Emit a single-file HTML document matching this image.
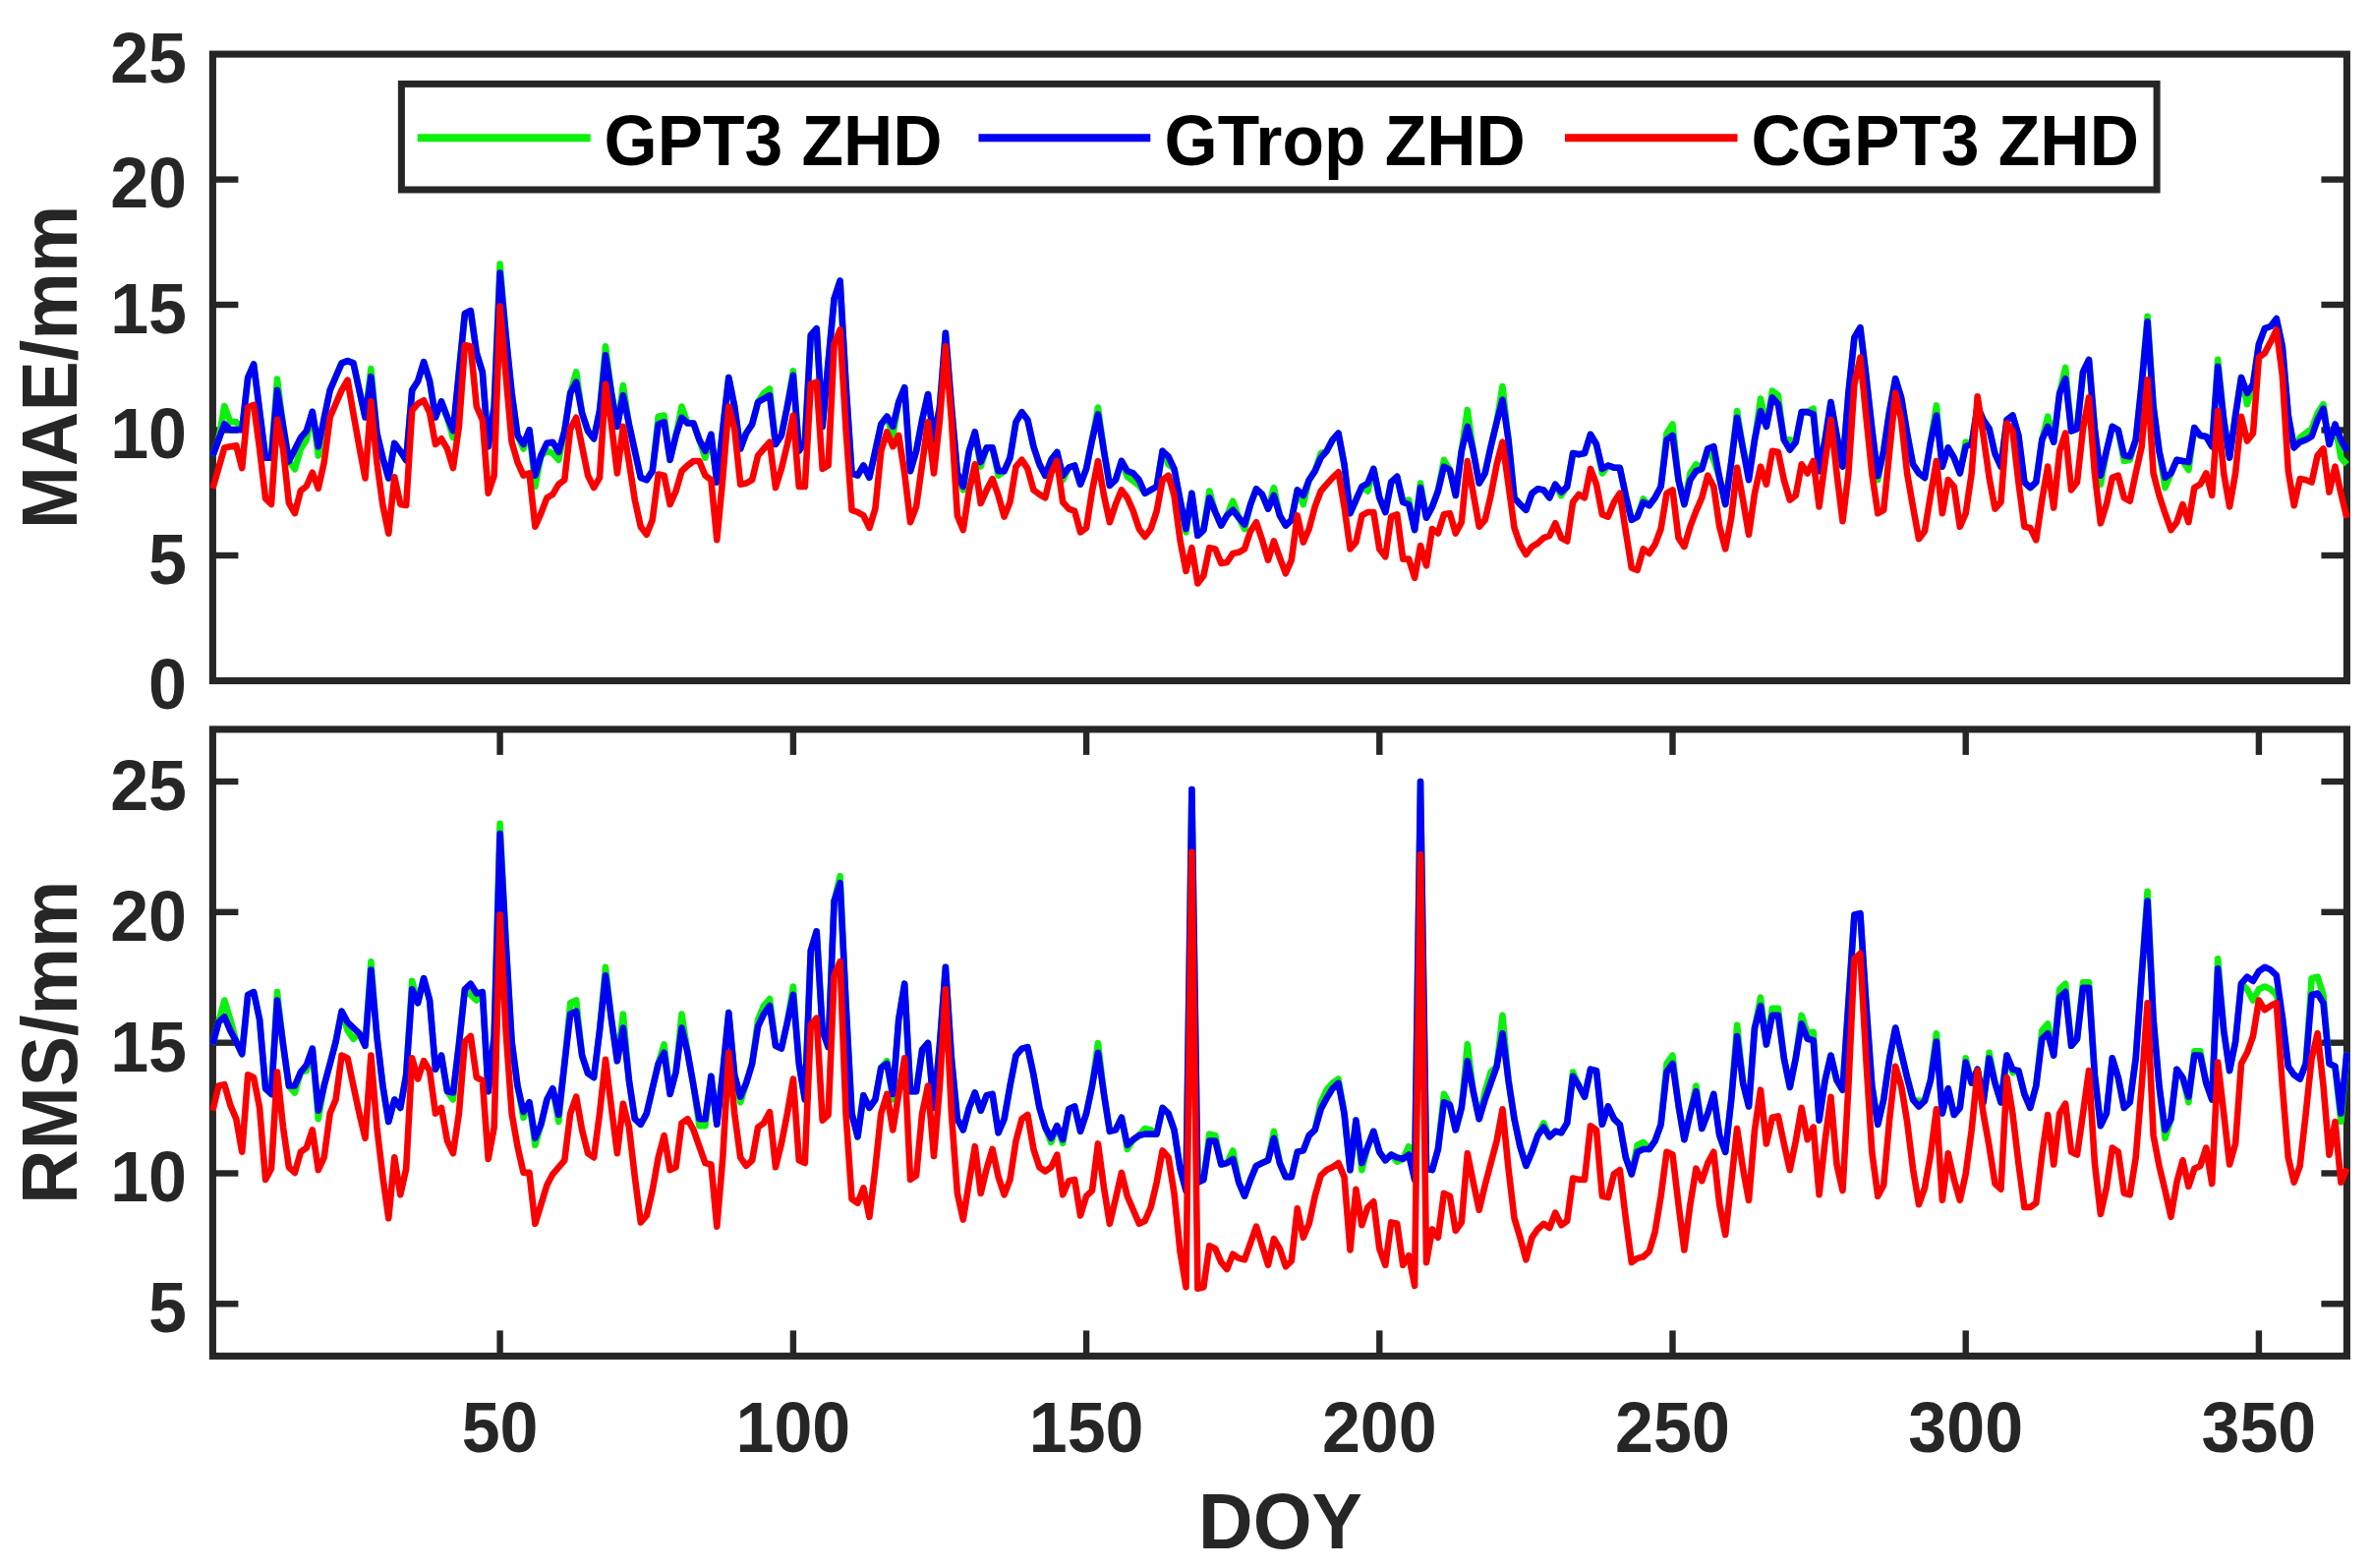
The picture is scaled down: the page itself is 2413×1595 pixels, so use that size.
<!DOCTYPE html>
<html><head><meta charset="utf-8"><title>MAE and RMS of ZHD models by DOY</title>
<style>
html,body{margin:0;padding:0;background:#fff;}
body{width:2413px;height:1595px;overflow:hidden;}
svg{display:block;}
svg text{font-family:"Liberation Sans",Arial,Helvetica,sans-serif;font-weight:bold;}
</style></head><body>
<svg width="2413" height="1595" viewBox="0 0 2413 1595">
<defs>
<clipPath id="ct"><rect x="213.4" y="55.1" width="2177.0" height="637.4"/></clipPath>
<clipPath id="cb"><rect x="213.4" y="741.9" width="2177.0" height="637.5"/></clipPath>
</defs>
<rect x="0" y="0" width="2413" height="1595" fill="#ffffff"/>
<g stroke="#262626" stroke-width="6.4" fill="none">
<line x1="216.4" y1="565.0" x2="242.4" y2="565.0"/>
<line x1="2387.4" y1="565.0" x2="2361.4" y2="565.0"/>
<line x1="216.4" y1="437.5" x2="242.4" y2="437.5"/>
<line x1="2387.4" y1="437.5" x2="2361.4" y2="437.5"/>
<line x1="216.4" y1="310.0" x2="242.4" y2="310.0"/>
<line x1="2387.4" y1="310.0" x2="2361.4" y2="310.0"/>
<line x1="216.4" y1="182.6" x2="242.4" y2="182.6"/>
<line x1="2387.4" y1="182.6" x2="2361.4" y2="182.6"/>
<line x1="216.4" y1="1326.3" x2="242.4" y2="1326.3"/>
<line x1="2387.4" y1="1326.3" x2="2361.4" y2="1326.3"/>
<line x1="216.4" y1="1193.5" x2="242.4" y2="1193.5"/>
<line x1="2387.4" y1="1193.5" x2="2361.4" y2="1193.5"/>
<line x1="216.4" y1="1060.7" x2="242.4" y2="1060.7"/>
<line x1="2387.4" y1="1060.7" x2="2361.4" y2="1060.7"/>
<line x1="216.4" y1="927.8" x2="242.4" y2="927.8"/>
<line x1="2387.4" y1="927.8" x2="2361.4" y2="927.8"/>
<line x1="216.4" y1="795.0" x2="242.4" y2="795.0"/>
<line x1="2387.4" y1="795.0" x2="2361.4" y2="795.0"/>
<line x1="508.6" y1="1379.4" x2="508.6" y2="1353.4"/>
<line x1="508.6" y1="741.9" x2="508.6" y2="767.9"/>
<line x1="806.9" y1="1379.4" x2="806.9" y2="1353.4"/>
<line x1="806.9" y1="741.9" x2="806.9" y2="767.9"/>
<line x1="1105.1" y1="1379.4" x2="1105.1" y2="1353.4"/>
<line x1="1105.1" y1="741.9" x2="1105.1" y2="767.9"/>
<line x1="1403.3" y1="1379.4" x2="1403.3" y2="1353.4"/>
<line x1="1403.3" y1="741.9" x2="1403.3" y2="767.9"/>
<line x1="1701.5" y1="1379.4" x2="1701.5" y2="1353.4"/>
<line x1="1701.5" y1="741.9" x2="1701.5" y2="767.9"/>
<line x1="1999.7" y1="1379.4" x2="1999.7" y2="1353.4"/>
<line x1="1999.7" y1="741.9" x2="1999.7" y2="767.9"/>
<line x1="2297.9" y1="1379.4" x2="2297.9" y2="1353.4"/>
<line x1="2297.9" y1="741.9" x2="2297.9" y2="767.9"/>
</g>
<g stroke="#262626" stroke-width="7.1" fill="none" stroke-linejoin="miter">
<rect x="216.4" y="55.1" width="2171.0" height="637.4"/>
<rect x="216.4" y="741.9" width="2171.0" height="637.5"/>
</g>
<g clip-path="url(#ct)">
<polyline points="216.4,463.5 222.4,447.4 228.3,413.0 234.3,429.1 240.3,429.1 246.2,437.1 252.2,384.1 258.1,370.5 264.1,418.2 270.1,465.8 276.0,465.8 282.0,385.5 288.0,433.1 293.9,469.3 299.9,477.3 305.9,456.6 311.8,447.4 317.8,418.8 323.8,463.5 329.7,425.6 335.7,396.9 341.6,383.2 347.6,369.4 353.6,367.1 359.5,369.4 365.5,396.9 371.5,424.5 377.4,375.1 383.4,440.6 389.4,465.8 395.3,486.5 401.3,450.9 407.3,458.9 413.2,468.1 419.2,396.9 425.1,387.8 431.1,368.2 437.1,387.8 443.0,424.5 449.0,408.4 455.0,424.5 460.9,445.2 466.9,378.6 472.9,318.9 478.8,316.1 484.8,359.1 490.8,378.4 496.7,454.2 502.7,413.5 508.6,268.6 514.6,341.0 520.6,399.9 526.5,442.9 532.5,456.5 538.5,437.3 544.4,495.0 550.4,463.3 556.4,458.8 562.3,461.0 568.3,467.8 574.3,438.4 580.2,399.9 586.2,378.4 592.1,420.3 598.1,438.4 604.1,446.3 610.0,418.0 616.0,352.4 622.0,399.9 627.9,433.9 633.9,392.0 639.9,431.6 645.8,458.8 651.8,485.9 657.8,488.2 663.7,479.1 669.7,423.7 675.6,422.5 681.6,467.8 687.6,442.9 693.5,413.5 699.5,430.5 705.5,430.5 711.4,447.4 717.4,465.6 723.4,441.8 729.3,490.5 735.3,436.1 741.3,384.0 747.2,413.5 753.2,456.5 759.1,440.7 765.1,431.6 771.1,409.0 777.0,399.9 783.0,395.4 789.0,452.0 794.9,442.9 800.9,413.5 806.9,377.3 812.8,458.8 818.8,449.7 824.8,341.0 830.7,334.2 836.7,433.9 842.6,368.2 848.6,303.7 854.6,285.6 860.5,390.8 866.5,481.4 872.5,483.7 878.4,473.5 884.4,485.9 890.4,458.8 896.3,431.6 902.3,423.7 908.3,442.9 914.2,409.0 920.2,394.2 926.1,479.1 932.1,458.8 938.1,427.1 944.0,401.0 950.0,447.4 956.0,413.5 961.9,338.8 967.9,413.5 973.9,481.4 979.8,498.4 985.8,458.8 991.8,439.5 997.7,474.6 1003.7,455.4 1009.6,455.4 1015.6,483.7 1021.6,479.1 1027.5,465.6 1033.5,429.3 1039.5,419.1 1045.4,427.1 1051.4,454.2 1057.4,472.3 1063.3,483.7 1069.3,467.8 1075.3,459.9 1081.2,488.2 1087.2,475.7 1093.2,473.5 1099.1,492.7 1105.1,476.9 1111.0,447.4 1117.0,414.6 1123.0,458.8 1128.9,493.9 1134.9,488.2 1140.9,469.0 1146.8,484.8 1152.8,489.3 1158.8,493.9 1164.7,501.8 1170.7,498.4 1176.7,495.0 1182.6,458.8 1188.6,472.3 1194.5,476.9 1200.5,508.6 1206.5,541.4 1212.4,501.8 1218.4,544.8 1224.4,539.1 1230.3,499.5 1236.3,521.0 1242.3,534.6 1248.2,524.4 1254.2,509.7 1260.2,526.7 1266.1,538.0 1272.1,513.1 1278.0,497.3 1284.0,502.9 1290.0,517.6 1295.9,496.1 1301.9,524.4 1307.9,534.6 1313.8,528.9 1319.8,498.4 1325.8,513.1 1331.7,488.2 1337.7,479.1 1343.7,461.0 1349.6,458.8 1355.6,447.4 1361.5,440.7 1367.5,472.3 1373.5,522.2 1379.4,508.6 1385.4,495.0 1391.4,499.5 1397.3,476.9 1403.3,506.3 1409.3,521.0 1415.2,490.5 1421.2,484.8 1427.2,510.8 1433.1,508.6 1439.1,539.1 1445.0,491.6 1451.0,526.7 1457.0,515.4 1462.9,499.5 1468.9,467.8 1474.9,478.0 1480.8,504.0 1486.8,458.8 1492.8,416.9 1498.7,458.8 1504.7,491.6 1510.7,481.4 1516.6,454.2 1522.6,429.3 1528.5,393.1 1534.5,447.4 1540.5,506.3 1546.4,513.1 1552.4,518.8 1558.4,501.8 1564.3,497.3 1570.3,498.4 1576.3,506.3 1582.2,492.7 1588.2,504.0 1594.2,495.0 1600.1,461.0 1606.1,462.2 1612.0,461.0 1618.0,441.8 1624.0,452.0 1629.9,481.4 1635.9,473.5 1641.9,475.7 1647.8,475.7 1653.8,504.0 1659.8,528.9 1665.7,525.6 1671.7,507.4 1677.7,514.2 1683.6,506.3 1689.6,495.0 1695.5,440.7 1701.5,431.6 1707.5,488.2 1713.4,513.1 1719.4,481.4 1725.4,472.3 1731.3,476.9 1737.3,456.5 1743.3,467.8 1749.2,485.9 1755.2,513.1 1761.2,470.1 1767.1,418.0 1773.1,456.5 1779.0,481.4 1785.0,447.4 1791.0,405.6 1796.9,433.9 1802.9,397.6 1808.9,402.2 1814.8,447.4 1820.8,447.4 1826.8,449.7 1832.7,419.1 1838.7,419.1 1844.7,415.7 1850.6,479.1 1856.6,447.4 1862.5,409.0 1868.5,442.9 1874.5,474.6 1880.4,399.9 1886.4,343.3 1892.4,333.1 1898.3,381.8 1904.3,436.1 1910.3,488.2 1916.2,458.8 1922.2,418.0 1928.2,385.2 1934.1,404.4 1940.1,440.7 1946.0,472.3 1952.0,481.4 1958.0,485.9 1963.9,449.7 1969.9,412.4 1975.9,474.6 1981.8,455.4 1987.8,465.6 1993.8,481.4 1999.7,449.7 2005.7,452.0 2011.7,413.5 2017.6,427.1 2023.6,436.1 2029.5,461.7 2035.5,474.6 2041.5,427.1 2047.4,422.5 2053.4,442.9 2059.4,490.5 2065.3,496.1 2071.3,490.5 2077.3,447.4 2083.2,423.7 2089.2,449.7 2095.2,399.9 2101.1,373.9 2107.1,438.4 2113.0,436.1 2119.0,378.4 2125.0,365.9 2130.9,436.1 2136.9,492.7 2142.9,458.8 2148.8,433.9 2154.8,437.3 2160.8,469.0 2166.7,467.8 2172.7,447.4 2178.7,390.8 2184.6,321.8 2190.6,413.5 2196.5,458.8 2202.5,496.1 2208.5,481.4 2214.4,467.8 2220.4,469.0 2226.4,478.0 2232.3,435.0 2238.3,442.9 2244.3,444.0 2250.2,454.2 2256.2,365.9 2262.2,427.1 2268.1,465.6 2274.1,422.5 2280.0,384.0 2286.0,411.2 2292.0,390.8 2297.9,350.1 2303.9,334.2 2309.9,332.0 2315.8,324.1 2321.8,352.4 2327.8,422.5 2333.7,455.4 2339.7,445.2 2345.7,440.7 2351.6,436.1 2357.6,420.3 2363.5,411.2 2369.5,452.0 2375.5,431.6 2381.4,465.6 2387.4,472.3" fill="none" stroke="#0df00d" stroke-width="6.6" stroke-linejoin="round" stroke-linecap="butt"/>
<polyline points="216.4,463.5 222.4,447.4 228.3,431.4 234.3,437.1 240.3,437.1 246.2,437.1 252.2,384.1 258.1,370.5 264.1,418.2 270.1,465.8 276.0,465.8 282.0,396.9 288.0,433.1 293.9,469.3 299.9,457.2 305.9,445.2 311.8,438.3 317.8,418.8 323.8,454.3 329.7,425.6 335.7,396.9 341.6,383.2 347.6,369.4 353.6,367.1 359.5,369.4 365.5,396.9 371.5,424.5 377.4,383.2 383.4,440.6 389.4,465.8 395.3,486.5 401.3,450.9 407.3,458.9 413.2,468.1 419.2,396.9 425.1,387.8 431.1,368.2 437.1,387.8 443.0,424.5 449.0,408.4 455.0,424.5 460.9,438.3 466.9,378.6 472.9,318.9 478.8,316.1 484.8,359.1 490.8,378.4 496.7,454.2 502.7,413.5 508.6,277.6 514.6,341.0 520.6,399.9 526.5,442.9 532.5,452.0 538.5,437.3 544.4,483.7 550.4,463.3 556.4,450.8 562.3,449.7 568.3,459.9 574.3,438.4 580.2,399.9 586.2,388.6 592.1,420.3 598.1,438.4 604.1,446.3 610.0,418.0 616.0,361.4 622.0,399.9 627.9,433.9 633.9,402.2 639.9,431.6 645.8,458.8 651.8,485.9 657.8,488.2 663.7,479.1 669.7,431.6 675.6,429.3 681.6,467.8 687.6,442.9 693.5,424.8 699.5,430.5 705.5,430.5 711.4,447.4 717.4,458.8 723.4,441.8 729.3,490.5 735.3,436.1 741.3,384.0 747.2,413.5 753.2,456.5 759.1,440.7 765.1,431.6 771.1,409.0 777.0,405.6 783.0,402.2 789.0,452.0 794.9,442.9 800.9,413.5 806.9,381.8 812.8,458.8 818.8,449.7 824.8,341.0 830.7,334.2 836.7,433.9 842.6,368.2 848.6,303.7 854.6,285.6 860.5,390.8 866.5,481.4 872.5,483.7 878.4,473.5 884.4,485.9 890.4,458.8 896.3,431.6 902.3,423.7 908.3,433.9 914.2,409.0 920.2,394.2 926.1,479.1 932.1,458.8 938.1,427.1 944.0,401.0 950.0,447.4 956.0,413.5 961.9,338.8 967.9,413.5 973.9,481.4 979.8,495.0 985.8,458.8 991.8,439.5 997.7,470.1 1003.7,455.4 1009.6,455.4 1015.6,479.1 1021.6,479.1 1027.5,465.6 1033.5,429.3 1039.5,419.1 1045.4,427.1 1051.4,454.2 1057.4,472.3 1063.3,483.7 1069.3,467.8 1075.3,459.9 1081.2,483.7 1087.2,475.7 1093.2,473.5 1099.1,492.7 1105.1,476.9 1111.0,447.4 1117.0,421.4 1123.0,458.8 1128.9,493.9 1134.9,488.2 1140.9,469.0 1146.8,479.1 1152.8,481.4 1158.8,488.2 1164.7,501.8 1170.7,498.4 1176.7,495.0 1182.6,458.8 1188.6,464.4 1194.5,476.9 1200.5,508.6 1206.5,538.0 1212.4,501.8 1218.4,544.8 1224.4,539.1 1230.3,506.3 1236.3,521.0 1242.3,534.6 1248.2,524.4 1254.2,518.8 1260.2,526.7 1266.1,533.5 1272.1,513.1 1278.0,497.3 1284.0,502.9 1290.0,517.6 1295.9,504.0 1301.9,524.4 1307.9,534.6 1313.8,528.9 1319.8,498.4 1325.8,504.0 1331.7,488.2 1337.7,479.1 1343.7,465.6 1349.6,458.8 1355.6,447.4 1361.5,440.7 1367.5,472.3 1373.5,522.2 1379.4,508.6 1385.4,495.0 1391.4,491.6 1397.3,476.9 1403.3,506.3 1409.3,521.0 1415.2,490.5 1421.2,484.8 1427.2,510.8 1433.1,513.1 1439.1,539.1 1445.0,496.1 1451.0,526.7 1457.0,515.4 1462.9,499.5 1468.9,474.6 1474.9,478.0 1480.8,504.0 1486.8,458.8 1492.8,433.9 1498.7,458.8 1504.7,491.6 1510.7,481.4 1516.6,454.2 1522.6,429.3 1528.5,406.7 1534.5,447.4 1540.5,506.3 1546.4,513.1 1552.4,518.8 1558.4,501.8 1564.3,497.3 1570.3,498.4 1576.3,506.3 1582.2,492.7 1588.2,500.6 1594.2,495.0 1600.1,461.0 1606.1,462.2 1612.0,461.0 1618.0,441.8 1624.0,452.0 1629.9,476.9 1635.9,473.5 1641.9,475.7 1647.8,475.7 1653.8,504.0 1659.8,528.9 1665.7,525.6 1671.7,510.8 1677.7,514.2 1683.6,506.3 1689.6,495.0 1695.5,447.4 1701.5,442.9 1707.5,488.2 1713.4,513.1 1719.4,488.2 1725.4,479.1 1731.3,476.9 1737.3,456.5 1743.3,454.2 1749.2,485.9 1755.2,513.1 1761.2,470.1 1767.1,424.8 1773.1,456.5 1779.0,488.2 1785.0,447.4 1791.0,418.0 1796.9,433.9 1802.9,404.4 1808.9,411.2 1814.8,447.4 1820.8,457.6 1826.8,449.7 1832.7,419.1 1838.7,419.1 1844.7,421.4 1850.6,479.1 1856.6,447.4 1862.5,409.0 1868.5,442.9 1874.5,474.6 1880.4,399.9 1886.4,343.3 1892.4,333.1 1898.3,381.8 1904.3,436.1 1910.3,484.1 1916.2,458.8 1922.2,418.0 1928.2,385.2 1934.1,404.4 1940.1,440.7 1946.0,472.3 1952.0,481.4 1958.0,485.9 1963.9,449.7 1969.9,422.5 1975.9,474.6 1981.8,455.4 1987.8,465.6 1993.8,481.4 1999.7,454.2 2005.7,452.0 2011.7,413.5 2017.6,427.1 2023.6,436.1 2029.5,461.7 2035.5,474.6 2041.5,427.1 2047.4,422.5 2053.4,442.9 2059.4,490.5 2065.3,496.1 2071.3,490.5 2077.3,447.4 2083.2,433.9 2089.2,449.7 2095.2,399.9 2101.1,385.2 2107.1,438.4 2113.0,436.1 2119.0,378.4 2125.0,365.9 2130.9,436.1 2136.9,483.7 2142.9,458.8 2148.8,433.9 2154.8,437.3 2160.8,463.3 2166.7,464.4 2172.7,447.4 2178.7,390.8 2184.6,327.4 2190.6,413.5 2196.5,458.8 2202.5,485.9 2208.5,481.4 2214.4,467.8 2220.4,469.0 2226.4,470.1 2232.3,435.0 2238.3,442.9 2244.3,444.0 2250.2,454.2 2256.2,372.7 2262.2,427.1 2268.1,465.6 2274.1,422.5 2280.0,384.0 2286.0,399.9 2292.0,390.8 2297.9,350.1 2303.9,334.2 2309.9,332.0 2315.8,324.1 2321.8,352.4 2327.8,422.5 2333.7,455.4 2339.7,449.7 2345.7,447.4 2351.6,444.0 2357.6,427.1 2363.5,415.7 2369.5,452.0 2375.5,431.6 2381.4,447.4 2387.4,458.8" fill="none" stroke="#0000f5" stroke-width="6.6" stroke-linejoin="round" stroke-linecap="butt"/>
<polyline points="216.4,496.8 222.4,476.1 228.3,455.5 234.3,454.3 240.3,453.2 246.2,476.1 252.2,414.2 258.1,411.9 264.1,456.6 270.1,507.1 276.0,512.9 282.0,426.8 288.0,456.6 293.9,511.7 299.9,522.1 305.9,499.1 311.8,494.5 317.8,480.7 323.8,496.8 329.7,470.4 335.7,424.5 341.6,410.7 347.6,396.9 353.6,386.6 359.5,421.0 365.5,454.3 371.5,486.5 377.4,408.4 383.4,470.4 389.4,514.0 395.3,542.7 401.3,485.3 407.3,512.9 413.2,514.0 419.2,417.6 425.1,410.7 431.1,407.3 437.1,419.9 443.0,452.0 449.0,446.3 455.0,456.6 460.9,476.1 466.9,433.7 472.9,351.0 478.8,352.4 484.8,413.5 490.8,427.1 496.7,501.8 502.7,483.7 508.6,311.6 514.6,381.8 520.6,449.7 526.5,470.1 532.5,483.7 538.5,481.4 544.4,535.7 550.4,522.2 556.4,506.3 562.3,502.9 568.3,492.7 574.3,488.2 580.2,436.1 586.2,424.8 592.1,454.2 598.1,483.7 604.1,496.1 610.0,485.9 616.0,390.8 622.0,431.6 627.9,481.4 633.9,433.9 639.9,470.1 645.8,508.6 651.8,535.7 657.8,543.7 663.7,528.9 669.7,482.5 675.6,483.7 681.6,513.1 687.6,499.5 693.5,479.1 699.5,473.5 705.5,469.0 711.4,469.0 717.4,483.7 723.4,488.2 729.3,549.3 735.3,485.9 741.3,413.5 747.2,436.1 753.2,492.7 759.1,491.6 765.1,488.2 771.1,463.3 777.0,456.5 783.0,449.7 789.0,496.1 794.9,476.9 800.9,452.0 806.9,422.5 812.8,495.0 818.8,495.0 824.8,390.8 830.7,388.6 836.7,476.9 842.6,473.5 848.6,350.1 854.6,335.4 860.5,436.1 866.5,518.8 872.5,521.0 878.4,524.4 884.4,536.9 890.4,517.6 896.3,458.8 902.3,439.5 908.3,454.2 914.2,442.9 920.2,481.4 926.1,531.2 932.1,515.4 938.1,472.3 944.0,429.3 950.0,481.4 956.0,427.1 961.9,352.4 967.9,427.1 973.9,524.4 979.8,539.1 985.8,499.5 991.8,472.3 997.7,512.0 1003.7,498.4 1009.6,487.1 1015.6,504.0 1021.6,525.6 1027.5,510.8 1033.5,474.6 1039.5,467.8 1045.4,476.9 1051.4,498.4 1057.4,502.9 1063.3,506.3 1069.3,481.4 1075.3,469.0 1081.2,510.8 1087.2,517.6 1093.2,519.9 1099.1,541.4 1105.1,536.9 1111.0,499.5 1117.0,469.0 1123.0,504.0 1128.9,531.2 1134.9,513.1 1140.9,498.4 1146.8,506.3 1152.8,519.9 1158.8,538.0 1164.7,545.9 1170.7,538.0 1176.7,519.9 1182.6,488.2 1188.6,483.7 1194.5,504.0 1200.5,549.3 1206.5,581.0 1212.4,557.2 1218.4,593.5 1224.4,585.5 1230.3,557.2 1236.3,558.4 1242.3,573.1 1248.2,572.0 1254.2,562.9 1260.2,561.8 1266.1,558.4 1272.1,540.3 1278.0,531.2 1284.0,549.3 1290.0,569.7 1295.9,550.5 1301.9,567.4 1307.9,583.3 1313.8,569.7 1319.8,524.4 1325.8,551.6 1331.7,538.0 1337.7,515.4 1343.7,499.5 1349.6,492.7 1355.6,485.9 1361.5,480.3 1367.5,515.4 1373.5,558.4 1379.4,551.6 1385.4,524.4 1391.4,521.0 1397.3,521.0 1403.3,558.4 1409.3,566.3 1415.2,525.6 1421.2,523.3 1427.2,568.6 1433.1,568.6 1439.1,587.8 1445.0,555.0 1451.0,575.4 1457.0,538.0 1462.9,542.5 1468.9,523.3 1474.9,522.2 1480.8,542.5 1486.8,531.2 1492.8,469.0 1498.7,501.8 1504.7,535.7 1510.7,528.9 1516.6,504.0 1522.6,472.3 1528.5,449.7 1534.5,492.7 1540.5,536.9 1546.4,553.9 1552.4,564.0 1558.4,556.1 1564.3,552.7 1570.3,547.1 1576.3,544.8 1582.2,532.3 1588.2,547.1 1594.2,550.5 1600.1,510.8 1606.1,502.9 1612.0,506.3 1618.0,476.9 1624.0,492.7 1629.9,523.3 1635.9,525.6 1641.9,510.8 1647.8,501.8 1653.8,540.3 1659.8,577.6 1665.7,579.9 1671.7,558.4 1677.7,562.9 1683.6,553.9 1689.6,538.0 1695.5,501.8 1701.5,498.4 1707.5,547.1 1713.4,556.1 1719.4,535.7 1725.4,519.9 1731.3,506.3 1737.3,483.7 1743.3,495.0 1749.2,535.7 1755.2,558.4 1761.2,526.7 1767.1,475.7 1773.1,508.6 1779.0,543.7 1785.0,501.8 1791.0,474.6 1796.9,492.7 1802.9,458.8 1808.9,459.9 1814.8,488.2 1820.8,508.6 1826.8,504.0 1832.7,472.3 1838.7,481.4 1844.7,469.0 1850.6,515.4 1856.6,470.1 1862.5,427.1 1868.5,481.4 1874.5,530.1 1880.4,481.4 1886.4,390.8 1892.4,363.7 1898.3,422.5 1904.3,481.4 1910.3,522.2 1916.2,518.8 1922.2,458.8 1928.2,399.9 1934.1,427.1 1940.1,481.4 1946.0,515.4 1952.0,548.2 1958.0,540.3 1963.9,504.0 1969.9,469.0 1975.9,522.2 1981.8,488.2 1987.8,495.0 1993.8,535.7 1999.7,522.2 2005.7,481.4 2011.7,403.3 2017.6,442.9 2023.6,485.9 2029.5,517.6 2035.5,510.8 2041.5,430.5 2047.4,438.4 2053.4,490.5 2059.4,535.7 2065.3,536.9 2071.3,549.3 2077.3,508.6 2083.2,474.6 2089.2,516.5 2095.2,458.8 2101.1,440.7 2107.1,498.4 2113.0,490.5 2119.0,436.1 2125.0,404.4 2130.9,481.4 2136.9,532.3 2142.9,513.1 2148.8,485.9 2154.8,483.7 2160.8,506.3 2166.7,509.7 2172.7,481.4 2178.7,454.2 2184.6,386.3 2190.6,481.4 2196.5,504.0 2202.5,522.2 2208.5,539.1 2214.4,531.2 2220.4,513.1 2226.4,531.2 2232.3,496.1 2238.3,492.7 2244.3,481.4 2250.2,504.0 2256.2,418.0 2262.2,481.4 2268.1,515.4 2274.1,481.4 2280.0,423.7 2286.0,448.6 2292.0,440.7 2297.9,363.7 2303.9,359.1 2309.9,347.8 2315.8,335.4 2321.8,381.8 2327.8,479.1 2333.7,514.2 2339.7,487.1 2345.7,488.2 2351.6,490.5 2357.6,463.3 2363.5,456.5 2369.5,500.6 2375.5,474.6 2381.4,501.8 2387.4,526.7" fill="none" stroke="#fa0000" stroke-width="6.6" stroke-linejoin="round" stroke-linecap="butt"/>
</g>
<g clip-path="url(#cb)">
<polyline points="216.4,1062.4 222.4,1039.9 228.3,1017.5 234.3,1037.1 240.3,1059.6 246.2,1072.2 252.2,1011.9 258.1,1009.1 264.1,1037.1 270.1,1107.3 276.0,1112.9 282.0,1009.1 288.0,1062.4 293.9,1104.5 299.9,1111.5 305.9,1090.5 311.8,1089.1 317.8,1066.6 323.8,1138.2 329.7,1104.5 335.7,1082.0 341.6,1059.6 347.6,1028.7 353.6,1048.4 359.5,1056.8 365.5,1051.2 371.5,1063.8 377.4,978.2 383.4,1054.0 389.4,1104.5 395.3,1141.0 401.3,1118.5 407.3,1126.9 413.2,1093.3 419.2,997.9 425.1,1020.3 431.1,995.1 437.1,1017.5 443.0,1087.7 449.0,1073.6 455.0,1110.1 460.9,1118.5 466.9,1062.4 472.9,1006.3 478.8,1011.9 484.8,1017.5 490.8,1009.1 496.7,1110.1 502.7,1054.0 508.6,837.9 514.6,958.6 520.6,1059.6 526.5,1104.5 532.5,1136.8 538.5,1121.3 544.4,1164.8 550.4,1143.8 556.4,1118.5 562.3,1107.3 568.3,1141.0 574.3,1082.0 580.2,1020.3 586.2,1017.5 592.1,1073.6 598.1,1091.9 604.1,1096.1 610.0,1048.4 616.0,983.8 622.0,1037.1 627.9,1079.2 633.9,1031.5 639.9,1098.9 645.8,1138.2 651.8,1143.8 657.8,1132.6 663.7,1107.3 669.7,1082.0 675.6,1062.4 681.6,1112.9 687.6,1090.5 693.5,1031.5 699.5,1070.8 705.5,1104.5 711.4,1145.2 717.4,1145.2 723.4,1094.7 729.3,1143.8 735.3,1090.5 741.3,1030.1 747.2,1093.3 753.2,1121.3 759.1,1101.7 765.1,1082.0 771.1,1037.1 777.0,1023.1 783.0,1016.1 789.0,1063.8 794.9,1066.6 800.9,1039.9 806.9,1003.5 812.8,1082.0 818.8,1118.5 824.8,967.0 830.7,947.3 836.7,1048.4 842.6,1065.2 848.6,916.5 854.6,891.2 860.5,1020.3 866.5,1132.6 872.5,1156.4 878.4,1114.3 884.4,1126.9 890.4,1118.5 896.3,1086.2 902.3,1079.2 908.3,1118.5 914.2,1037.1 920.2,1000.7 926.1,1110.1 932.1,1110.1 938.1,1068.0 944.0,1061.0 950.0,1126.9 956.0,1062.4 961.9,983.8 967.9,1076.4 973.9,1138.2 979.8,1149.4 985.8,1126.9 991.8,1111.5 997.7,1129.7 1003.7,1114.3 1009.6,1112.9 1015.6,1152.2 1021.6,1138.2 1027.5,1104.5 1033.5,1073.6 1039.5,1066.6 1045.4,1065.2 1051.4,1093.3 1057.4,1126.9 1063.3,1146.6 1069.3,1162.0 1075.3,1145.2 1081.2,1162.9 1087.2,1128.3 1093.2,1125.5 1099.1,1150.8 1105.1,1132.6 1111.0,1104.5 1117.0,1061.0 1123.0,1112.9 1128.9,1150.8 1134.9,1149.4 1140.9,1136.8 1146.8,1169.0 1152.8,1159.2 1158.8,1155.0 1164.7,1148.0 1170.7,1149.4 1176.7,1153.6 1182.6,1126.9 1188.6,1132.6 1194.5,1149.4 1200.5,1188.7 1206.5,1211.1 1212.4,803.1 1218.4,1202.7 1224.4,1199.9 1230.3,1153.6 1236.3,1155.0 1242.3,1184.5 1248.2,1183.1 1254.2,1170.4 1260.2,1202.7 1266.1,1216.7 1272.1,1199.9 1278.0,1185.9 1284.0,1183.1 1290.0,1180.3 1295.9,1150.8 1301.9,1183.1 1307.9,1197.1 1313.8,1197.1 1319.8,1171.8 1325.8,1170.4 1331.7,1155.0 1337.7,1149.4 1343.7,1121.3 1349.6,1108.7 1355.6,1101.7 1361.5,1097.5 1367.5,1132.6 1373.5,1190.1 1379.4,1139.6 1385.4,1190.1 1391.4,1166.2 1397.3,1150.8 1403.3,1171.8 1409.3,1180.3 1415.2,1174.6 1421.2,1181.7 1427.2,1178.9 1433.1,1166.2 1439.1,1199.9 1445.0,795.0 1451.0,1188.7 1457.0,1190.1 1462.9,1169.0 1468.9,1112.9 1474.9,1124.1 1480.8,1149.4 1486.8,1126.9 1492.8,1062.4 1498.7,1110.1 1504.7,1138.2 1510.7,1110.1 1516.6,1090.5 1522.6,1084.8 1528.5,1032.9 1534.5,1098.9 1540.5,1138.2 1546.4,1166.2 1552.4,1185.9 1558.4,1171.8 1564.3,1155.0 1570.3,1142.4 1576.3,1156.4 1582.2,1150.8 1588.2,1152.2 1594.2,1142.4 1600.1,1090.5 1606.1,1104.5 1612.0,1115.7 1618.0,1087.7 1624.0,1089.1 1629.9,1143.8 1635.9,1125.5 1641.9,1138.2 1647.8,1143.8 1653.8,1177.4 1659.8,1194.3 1665.7,1164.8 1671.7,1162.0 1677.7,1169.0 1683.6,1160.6 1689.6,1143.8 1695.5,1082.0 1701.5,1073.6 1707.5,1124.1 1713.4,1159.2 1719.4,1132.6 1725.4,1104.5 1731.3,1148.0 1737.3,1132.6 1743.3,1112.9 1749.2,1155.0 1755.2,1171.8 1761.2,1118.5 1767.1,1042.8 1773.1,1101.7 1779.0,1125.5 1785.0,1045.6 1791.0,1014.7 1796.9,1062.4 1802.9,1025.9 1808.9,1025.9 1814.8,1076.4 1820.8,1105.9 1826.8,1076.4 1832.7,1032.9 1838.7,1051.2 1844.7,1049.8 1850.6,1139.6 1856.6,1098.9 1862.5,1073.6 1868.5,1098.9 1874.5,1108.7 1880.4,1020.3 1886.4,930.5 1892.4,929.1 1898.3,1020.3 1904.3,1104.5 1910.3,1143.8 1916.2,1118.5 1922.2,1076.4 1928.2,1045.6 1934.1,1070.8 1940.1,1096.1 1946.0,1118.5 1952.0,1119.9 1958.0,1119.9 1963.9,1098.9 1969.9,1051.2 1975.9,1132.6 1981.8,1107.3 1987.8,1134.0 1993.8,1126.9 1999.7,1076.4 2005.7,1101.7 2011.7,1087.7 2017.6,1121.3 2023.6,1070.8 2029.5,1101.7 2035.5,1121.3 2041.5,1073.6 2047.4,1091.0 2053.4,1089.1 2059.4,1112.9 2065.3,1126.9 2071.3,1104.5 2077.3,1048.4 2083.2,1041.4 2089.2,1073.6 2095.2,1006.3 2101.1,1000.7 2107.1,1063.8 2113.0,1056.8 2119.0,999.3 2125.0,999.3 2130.9,1093.3 2136.9,1145.2 2142.9,1132.6 2148.8,1076.4 2154.8,1096.1 2160.8,1126.9 2166.7,1121.3 2172.7,1076.4 2178.7,992.2 2184.6,906.7 2190.6,1037.1 2196.5,1104.5 2202.5,1157.8 2208.5,1138.2 2214.4,1087.7 2220.4,1096.1 2226.4,1121.3 2232.3,1069.4 2238.3,1069.4 2244.3,1101.7 2250.2,1118.5 2256.2,975.4 2262.2,1048.4 2268.1,1089.1 2274.1,1059.6 2280.0,1000.7 2286.0,1006.3 2292.0,1017.5 2297.9,1006.3 2303.9,1003.5 2309.9,1006.3 2315.8,1011.9 2321.8,1034.3 2327.8,1084.8 2333.7,1093.3 2339.7,1097.5 2345.7,1082.0 2351.6,995.1 2357.6,993.6 2363.5,1011.9 2369.5,1082.0 2375.5,1084.8 2381.4,1141.0 2387.4,1070.8" fill="none" stroke="#0df00d" stroke-width="6.6" stroke-linejoin="round" stroke-linecap="butt"/>
<polyline points="216.4,1062.4 222.4,1039.9 228.3,1034.3 234.3,1048.4 240.3,1059.6 246.2,1072.2 252.2,1011.9 258.1,1009.1 264.1,1037.1 270.1,1107.3 276.0,1112.9 282.0,1017.5 288.0,1062.4 293.9,1104.5 299.9,1104.5 305.9,1090.5 311.8,1083.4 317.8,1066.6 323.8,1129.7 329.7,1104.5 335.7,1082.0 341.6,1059.6 347.6,1028.7 353.6,1039.9 359.5,1045.6 365.5,1051.2 371.5,1063.8 377.4,986.6 383.4,1054.0 389.4,1104.5 395.3,1141.0 401.3,1118.5 407.3,1126.9 413.2,1093.3 419.2,1006.3 425.1,1020.3 431.1,995.1 437.1,1017.5 443.0,1087.7 449.0,1073.6 455.0,1110.1 460.9,1111.5 466.9,1062.4 472.9,1006.3 478.8,1000.7 484.8,1010.5 490.8,1009.1 496.7,1110.1 502.7,1054.0 508.6,848.0 514.6,958.6 520.6,1059.6 526.5,1104.5 532.5,1131.1 538.5,1121.3 544.4,1157.8 550.4,1143.8 556.4,1118.5 562.3,1107.3 568.3,1134.0 574.3,1082.0 580.2,1031.5 586.2,1028.7 592.1,1073.6 598.1,1091.9 604.1,1096.1 610.0,1048.4 616.0,992.2 622.0,1037.1 627.9,1079.2 633.9,1045.6 639.9,1098.9 645.8,1138.2 651.8,1143.8 657.8,1132.6 663.7,1107.3 669.7,1082.0 675.6,1070.8 681.6,1112.9 687.6,1090.5 693.5,1045.6 699.5,1070.8 705.5,1104.5 711.4,1138.2 717.4,1138.2 723.4,1094.7 729.3,1143.8 735.3,1090.5 741.3,1030.1 747.2,1093.3 753.2,1115.7 759.1,1101.7 765.1,1082.0 771.1,1044.2 777.0,1031.5 783.0,1023.1 789.0,1063.8 794.9,1066.6 800.9,1039.9 806.9,1011.9 812.8,1082.0 818.8,1118.5 824.8,967.0 830.7,947.3 836.7,1048.4 842.6,1065.2 848.6,916.5 854.6,898.2 860.5,1020.3 866.5,1132.6 872.5,1156.4 878.4,1114.3 884.4,1126.9 890.4,1118.5 896.3,1086.2 902.3,1082.0 908.3,1112.9 914.2,1037.1 920.2,1000.7 926.1,1110.1 932.1,1110.1 938.1,1068.0 944.0,1061.0 950.0,1126.9 956.0,1062.4 961.9,983.8 967.9,1076.4 973.9,1138.2 979.8,1149.4 985.8,1126.9 991.8,1111.5 997.7,1129.7 1003.7,1114.3 1009.6,1112.9 1015.6,1152.2 1021.6,1138.2 1027.5,1104.5 1033.5,1073.6 1039.5,1066.6 1045.4,1065.2 1051.4,1093.3 1057.4,1126.9 1063.3,1146.6 1069.3,1157.8 1075.3,1145.2 1081.2,1159.2 1087.2,1128.3 1093.2,1125.5 1099.1,1150.8 1105.1,1132.6 1111.0,1104.5 1117.0,1070.8 1123.0,1112.9 1128.9,1150.8 1134.9,1149.4 1140.9,1136.8 1146.8,1164.8 1152.8,1159.2 1158.8,1155.0 1164.7,1153.6 1170.7,1153.6 1176.7,1153.6 1182.6,1126.9 1188.6,1132.6 1194.5,1149.4 1200.5,1188.7 1206.5,1211.1 1212.4,803.1 1218.4,1202.7 1224.4,1199.9 1230.3,1160.6 1236.3,1160.6 1242.3,1184.5 1248.2,1183.1 1254.2,1178.9 1260.2,1202.7 1266.1,1216.7 1272.1,1199.9 1278.0,1185.9 1284.0,1183.1 1290.0,1180.3 1295.9,1157.8 1301.9,1183.1 1307.9,1197.1 1313.8,1197.1 1319.8,1171.8 1325.8,1170.4 1331.7,1155.0 1337.7,1149.4 1343.7,1128.3 1349.6,1117.1 1355.6,1107.3 1361.5,1101.7 1367.5,1132.6 1373.5,1190.1 1379.4,1139.6 1385.4,1183.1 1391.4,1166.2 1397.3,1150.8 1403.3,1171.8 1409.3,1180.3 1415.2,1174.6 1421.2,1177.4 1427.2,1178.9 1433.1,1174.6 1439.1,1199.9 1445.0,795.0 1451.0,1188.7 1457.0,1190.1 1462.9,1169.0 1468.9,1121.3 1474.9,1124.1 1480.8,1149.4 1486.8,1126.9 1492.8,1079.2 1498.7,1110.1 1504.7,1138.2 1510.7,1118.5 1516.6,1101.7 1522.6,1084.8 1528.5,1051.2 1534.5,1098.9 1540.5,1138.2 1546.4,1166.2 1552.4,1185.9 1558.4,1171.8 1564.3,1155.0 1570.3,1146.6 1576.3,1156.4 1582.2,1150.8 1588.2,1152.2 1594.2,1142.4 1600.1,1094.7 1606.1,1104.5 1612.0,1115.7 1618.0,1087.7 1624.0,1089.1 1629.9,1143.8 1635.9,1125.5 1641.9,1138.2 1647.8,1143.8 1653.8,1177.4 1659.8,1194.3 1665.7,1171.8 1671.7,1169.0 1677.7,1169.0 1683.6,1160.6 1689.6,1143.8 1695.5,1090.5 1701.5,1082.0 1707.5,1124.1 1713.4,1159.2 1719.4,1132.6 1725.4,1110.1 1731.3,1148.0 1737.3,1132.6 1743.3,1112.9 1749.2,1155.0 1755.2,1171.8 1761.2,1118.5 1767.1,1054.0 1773.1,1101.7 1779.0,1125.5 1785.0,1045.6 1791.0,1023.1 1796.9,1062.4 1802.9,1032.9 1808.9,1032.9 1814.8,1076.4 1820.8,1105.9 1826.8,1076.4 1832.7,1041.4 1838.7,1056.8 1844.7,1058.2 1850.6,1139.6 1856.6,1098.9 1862.5,1073.6 1868.5,1098.9 1874.5,1108.7 1880.4,1020.3 1886.4,930.5 1892.4,929.1 1898.3,1020.3 1904.3,1104.5 1910.3,1143.8 1916.2,1118.5 1922.2,1076.4 1928.2,1045.6 1934.1,1070.8 1940.1,1096.1 1946.0,1118.5 1952.0,1125.5 1958.0,1119.9 1963.9,1098.9 1969.9,1059.6 1975.9,1132.6 1981.8,1107.3 1987.8,1134.0 1993.8,1126.9 1999.7,1080.6 2005.7,1101.7 2011.7,1087.7 2017.6,1121.3 2023.6,1076.4 2029.5,1101.7 2035.5,1121.3 2041.5,1073.6 2047.4,1087.7 2053.4,1089.1 2059.4,1112.9 2065.3,1126.9 2071.3,1104.5 2077.3,1056.8 2083.2,1051.2 2089.2,1073.6 2095.2,1014.7 2101.1,1009.1 2107.1,1063.8 2113.0,1056.8 2119.0,1004.9 2125.0,1004.9 2130.9,1093.3 2136.9,1145.2 2142.9,1132.6 2148.8,1076.4 2154.8,1096.1 2160.8,1126.9 2166.7,1121.3 2172.7,1076.4 2178.7,992.2 2184.6,916.5 2190.6,1037.1 2196.5,1104.5 2202.5,1149.4 2208.5,1138.2 2214.4,1087.7 2220.4,1096.1 2226.4,1115.7 2232.3,1073.6 2238.3,1073.6 2244.3,1101.7 2250.2,1118.5 2256.2,985.2 2262.2,1048.4 2268.1,1089.1 2274.1,1059.6 2280.0,1000.7 2286.0,993.6 2292.0,997.9 2297.9,988.0 2303.9,983.8 2309.9,986.6 2315.8,992.2 2321.8,1034.3 2327.8,1084.8 2333.7,1093.3 2339.7,1097.5 2345.7,1082.0 2351.6,1011.9 2357.6,1010.5 2363.5,1020.3 2369.5,1082.0 2375.5,1084.8 2381.4,1132.6 2387.4,1070.8" fill="none" stroke="#0000f5" stroke-width="6.6" stroke-linejoin="round" stroke-linecap="butt"/>
<polyline points="216.4,1129.7 222.4,1104.5 228.3,1103.1 234.3,1124.1 240.3,1138.2 246.2,1171.8 252.2,1093.3 258.1,1096.1 264.1,1126.9 270.1,1199.9 276.0,1188.7 282.0,1090.5 288.0,1146.6 293.9,1187.3 299.9,1192.9 305.9,1171.8 311.8,1167.6 317.8,1149.4 323.8,1190.1 329.7,1177.4 335.7,1132.6 341.6,1118.5 347.6,1073.6 353.6,1076.4 359.5,1104.5 365.5,1132.6 371.5,1157.8 377.4,1073.6 383.4,1146.6 389.4,1197.1 395.3,1239.2 401.3,1177.4 407.3,1215.3 413.2,1188.7 419.2,1076.4 425.1,1097.5 431.1,1079.2 437.1,1089.1 443.0,1132.6 449.0,1126.9 455.0,1160.6 460.9,1173.2 466.9,1132.6 472.9,1059.6 478.8,1054.0 484.8,1096.1 490.8,1098.9 496.7,1178.9 502.7,1146.6 508.6,930.5 514.6,1048.4 520.6,1132.6 526.5,1166.2 532.5,1192.9 538.5,1192.9 544.4,1244.8 550.4,1225.2 556.4,1205.5 562.3,1194.3 568.3,1187.3 574.3,1180.3 580.2,1132.6 586.2,1115.7 592.1,1149.4 598.1,1173.2 604.1,1177.4 610.0,1132.6 616.0,1077.8 622.0,1126.9 627.9,1173.2 633.9,1122.7 639.9,1146.6 645.8,1197.1 651.8,1243.4 657.8,1236.4 663.7,1211.1 669.7,1177.4 675.6,1155.0 681.6,1190.1 687.6,1187.3 693.5,1142.4 699.5,1138.2 705.5,1149.4 711.4,1166.2 717.4,1183.1 723.4,1184.5 729.3,1247.6 735.3,1177.4 741.3,1070.8 747.2,1132.6 753.2,1177.4 759.1,1185.9 765.1,1180.3 771.1,1146.6 777.0,1142.4 783.0,1131.1 789.0,1187.3 794.9,1163.4 800.9,1132.6 806.9,1097.5 812.8,1180.3 818.8,1183.1 824.8,1042.8 830.7,1035.7 836.7,1139.6 842.6,1134.0 848.6,992.2 854.6,978.2 860.5,1132.6 866.5,1219.5 872.5,1223.8 878.4,1208.3 884.4,1237.8 890.4,1188.7 896.3,1132.6 902.3,1112.9 908.3,1149.4 914.2,1112.9 920.2,1076.4 926.1,1199.9 932.1,1195.7 938.1,1132.6 944.0,1104.5 950.0,1176.0 956.0,1104.5 961.9,1006.3 967.9,1132.6 973.9,1213.9 979.8,1240.6 985.8,1202.7 991.8,1166.2 997.7,1213.9 1003.7,1188.7 1009.6,1169.0 1015.6,1197.1 1021.6,1215.3 1027.5,1199.9 1033.5,1160.6 1039.5,1138.2 1045.4,1134.0 1051.4,1169.0 1057.4,1187.3 1063.3,1191.5 1069.3,1187.3 1075.3,1174.6 1081.2,1215.3 1087.2,1201.3 1093.2,1199.9 1099.1,1236.4 1105.1,1216.7 1111.0,1211.1 1117.0,1163.4 1123.0,1208.3 1128.9,1244.8 1134.9,1219.5 1140.9,1192.9 1146.8,1216.7 1152.8,1230.8 1158.8,1244.8 1164.7,1242.0 1170.7,1228.0 1176.7,1202.7 1182.6,1170.4 1188.6,1177.4 1194.5,1213.9 1200.5,1272.9 1206.5,1309.3 1212.4,866.8 1218.4,1310.7 1224.4,1309.3 1230.3,1267.2 1236.3,1270.1 1242.3,1284.1 1248.2,1291.1 1254.2,1275.7 1260.2,1279.9 1266.1,1281.3 1272.1,1264.4 1278.0,1247.6 1284.0,1267.2 1290.0,1286.9 1295.9,1260.2 1301.9,1270.1 1307.9,1288.3 1313.8,1282.7 1319.8,1229.4 1325.8,1258.8 1331.7,1244.8 1337.7,1216.7 1343.7,1195.7 1349.6,1190.1 1355.6,1187.3 1361.5,1183.1 1367.5,1197.1 1373.5,1271.5 1379.4,1209.7 1385.4,1246.2 1391.4,1228.0 1397.3,1222.3 1403.3,1270.1 1409.3,1286.9 1415.2,1243.4 1421.2,1244.8 1427.2,1286.9 1433.1,1277.1 1439.1,1307.9 1445.0,869.3 1451.0,1284.1 1457.0,1250.4 1462.9,1258.8 1468.9,1213.9 1474.9,1216.7 1480.8,1251.8 1486.8,1243.4 1492.8,1173.2 1498.7,1202.7 1504.7,1230.8 1510.7,1205.5 1516.6,1183.1 1522.6,1160.6 1528.5,1128.3 1534.5,1188.7 1540.5,1239.2 1546.4,1258.8 1552.4,1281.3 1558.4,1258.8 1564.3,1250.4 1570.3,1244.8 1576.3,1249.0 1582.2,1233.6 1588.2,1246.2 1594.2,1242.0 1600.1,1198.5 1606.1,1199.9 1612.0,1199.9 1618.0,1145.2 1624.0,1149.4 1629.9,1216.7 1635.9,1218.1 1641.9,1194.3 1647.8,1190.1 1653.8,1239.2 1659.8,1284.1 1665.7,1279.9 1671.7,1278.5 1677.7,1272.9 1683.6,1253.2 1689.6,1216.7 1695.5,1171.8 1701.5,1174.6 1707.5,1225.2 1713.4,1271.5 1719.4,1225.2 1725.4,1188.7 1731.3,1201.3 1737.3,1183.1 1743.3,1171.8 1749.2,1225.2 1755.2,1256.0 1761.2,1202.7 1767.1,1148.0 1773.1,1188.7 1779.0,1220.9 1785.0,1149.4 1791.0,1108.7 1796.9,1163.4 1802.9,1136.8 1808.9,1135.4 1814.8,1163.4 1820.8,1190.1 1826.8,1160.6 1832.7,1126.9 1838.7,1159.2 1844.7,1146.6 1850.6,1215.3 1856.6,1160.6 1862.5,1115.7 1868.5,1184.5 1874.5,1211.1 1880.4,1104.5 1886.4,975.4 1892.4,969.8 1898.3,1076.4 1904.3,1171.8 1910.3,1216.7 1916.2,1205.5 1922.2,1138.2 1928.2,1084.8 1934.1,1104.5 1940.1,1141.0 1946.0,1188.7 1952.0,1225.2 1958.0,1208.3 1963.9,1174.6 1969.9,1128.3 1975.9,1220.9 1981.8,1173.2 1987.8,1199.9 1993.8,1220.9 1999.7,1194.3 2005.7,1149.4 2011.7,1089.1 2017.6,1132.6 2023.6,1166.2 2029.5,1204.1 2035.5,1209.7 2041.5,1096.1 2047.4,1132.6 2053.4,1183.1 2059.4,1228.0 2065.3,1228.0 2071.3,1223.8 2077.3,1174.6 2083.2,1134.0 2089.2,1184.5 2095.2,1132.6 2101.1,1122.7 2107.1,1171.8 2113.0,1174.6 2119.0,1132.6 2125.0,1089.1 2130.9,1183.1 2136.9,1235.0 2142.9,1208.3 2148.8,1167.6 2154.8,1171.8 2160.8,1213.9 2166.7,1215.3 2172.7,1177.4 2178.7,1104.5 2184.6,1020.3 2190.6,1155.0 2196.5,1185.9 2202.5,1211.1 2208.5,1237.8 2214.4,1202.7 2220.4,1180.3 2226.4,1206.9 2232.3,1188.7 2238.3,1185.9 2244.3,1167.6 2250.2,1204.1 2256.2,1080.6 2262.2,1132.6 2268.1,1184.5 2274.1,1163.4 2280.0,1082.0 2286.0,1070.8 2292.0,1054.0 2297.9,1017.5 2303.9,1027.3 2309.9,1023.1 2315.8,1020.3 2321.8,1104.5 2327.8,1177.4 2333.7,1202.7 2339.7,1185.9 2345.7,1132.6 2351.6,1076.4 2357.6,1051.2 2363.5,1104.5 2369.5,1174.6 2375.5,1141.0 2381.4,1202.7 2387.4,1188.7" fill="none" stroke="#fa0000" stroke-width="6.6" stroke-linejoin="round" stroke-linecap="butt"/>
</g>
<g>
<rect x="408.4" y="85.4" width="1785.7" height="107.6" fill="#ffffff" stroke="#262626" stroke-width="7"/>
<line x1="424.7" y1="140.3" x2="600.7" y2="140.3" stroke="#0df00d" stroke-width="8"/>
<line x1="995.5" y1="140.3" x2="1170.3" y2="140.3" stroke="#0000f5" stroke-width="8"/>
<line x1="1592" y1="140.3" x2="1767.5" y2="140.3" stroke="#fa0000" stroke-width="8"/>
<g fill="#000000" font-size="69.6">
<text transform="translate(614.5,167.7) scale(1,1.025)">GPT3 ZHD</text>
<text transform="translate(1184.5,167.7) scale(1,1.025)">GTrop ZHD</text>
<text transform="translate(1781.5,167.7) scale(1,1.025)">CGPT3 ZHD</text>
</g>
</g>
<g fill="#262626">
<text transform="translate(190.0,721.2) scale(1,1.025)" text-anchor="end" font-size="70">0</text>
<text transform="translate(190.0,593.8) scale(1,1.025)" text-anchor="end" font-size="70">5</text>
<text transform="translate(190.0,466.3) scale(1,1.025)" text-anchor="end" font-size="70">10</text>
<text transform="translate(190.0,338.8) scale(1,1.025)" text-anchor="end" font-size="70">15</text>
<text transform="translate(190.0,211.4) scale(1,1.025)" text-anchor="end" font-size="70">20</text>
<text transform="translate(190.0,83.9) scale(1,1.025)" text-anchor="end" font-size="70">25</text>
<text transform="translate(190.0,1355.1) scale(1,1.025)" text-anchor="end" font-size="70">5</text>
<text transform="translate(190.0,1222.3) scale(1,1.025)" text-anchor="end" font-size="70">10</text>
<text transform="translate(190.0,1089.5) scale(1,1.025)" text-anchor="end" font-size="70">15</text>
<text transform="translate(190.0,956.6) scale(1,1.025)" text-anchor="end" font-size="70">20</text>
<text transform="translate(190.0,823.8) scale(1,1.025)" text-anchor="end" font-size="70">25</text>
<text transform="translate(508.6,1477.0) scale(1,1.025)" text-anchor="middle" font-size="70">50</text>
<text transform="translate(806.9,1477.0) scale(1,1.025)" text-anchor="middle" font-size="70">100</text>
<text transform="translate(1105.1,1477.0) scale(1,1.025)" text-anchor="middle" font-size="70">150</text>
<text transform="translate(1403.3,1477.0) scale(1,1.025)" text-anchor="middle" font-size="70">200</text>
<text transform="translate(1701.5,1477.0) scale(1,1.025)" text-anchor="middle" font-size="70">250</text>
<text transform="translate(1999.7,1477.0) scale(1,1.025)" text-anchor="middle" font-size="70">300</text>
<text transform="translate(2297.9,1477.0) scale(1,1.025)" text-anchor="middle" font-size="70">350</text>
<text transform="translate(1302.5,1575.0) scale(1,1.025)" text-anchor="middle" font-size="77">DOY</text>
<text transform="translate(77.5,373.6) rotate(-90) scale(1,1.025)" text-anchor="middle" font-size="77">MAE/mm</text>
<text transform="translate(77.5,1060.4) rotate(-90) scale(1,1.025)" text-anchor="middle" font-size="77">RMS/mm</text>
</g>
</svg>
</body></html>
